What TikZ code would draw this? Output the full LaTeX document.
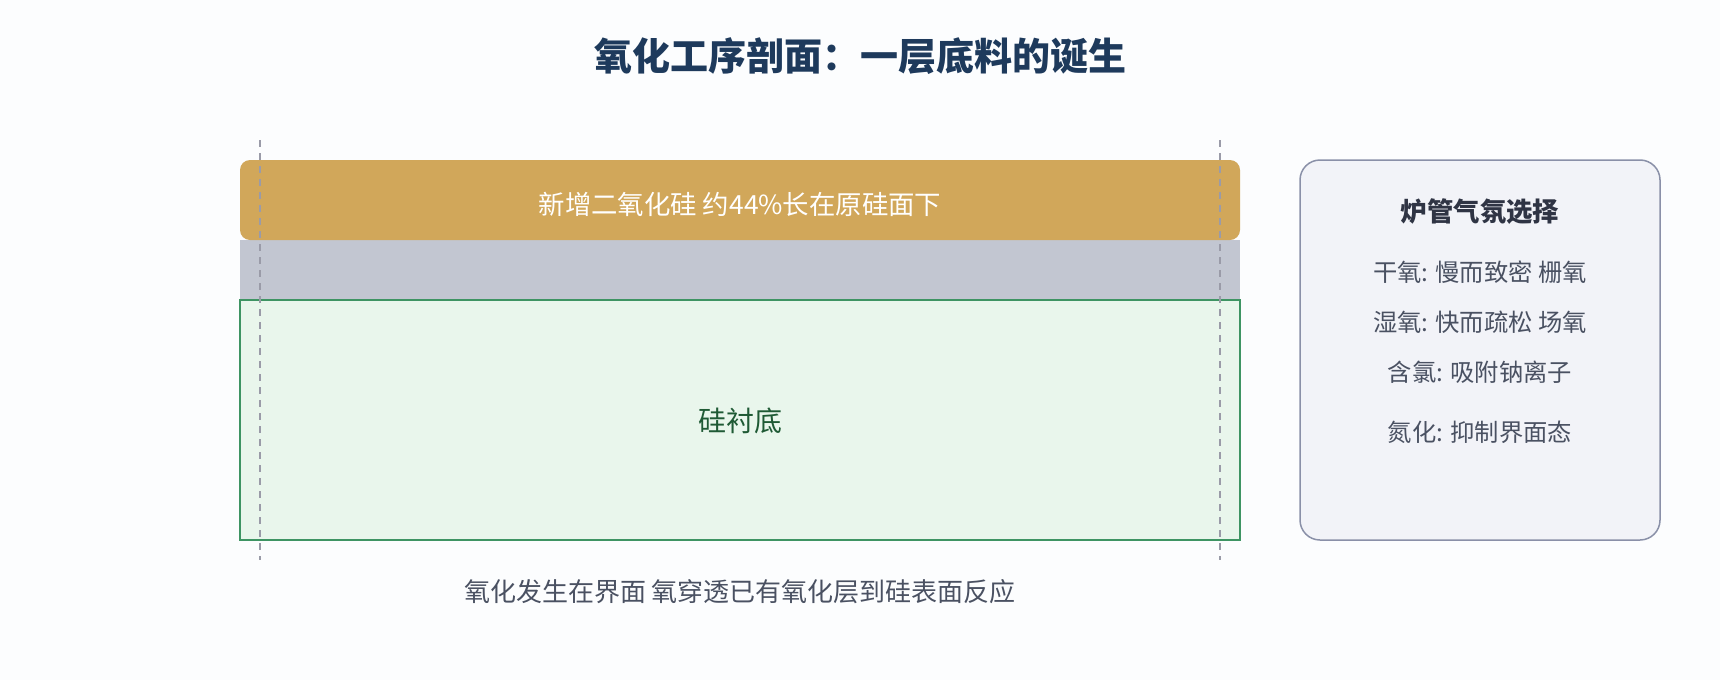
\documentclass[tikz,border=0pt]{standalone}
\usepackage{fontspec}
\setmainfont{Noto Sans CJK SC}
\definecolor{bgc}{HTML}{FCFDFE}
\definecolor{goldc}{HTML}{D1A75A}
\definecolor{grayc}{HTML}{C2C6D1}
\definecolor{greenfill}{HTML}{E9F6EC}
\definecolor{greenline}{HTML}{3E9463}
\definecolor{greentext}{HTML}{1F5A35}
\definecolor{titlec}{HTML}{1E3A5C}
\definecolor{textc}{HTML}{4A5162}
\definecolor{ptitlec}{HTML}{2F3444}
\definecolor{panelfill}{HTML}{F2F3F8}
\definecolor{panelline}{HTML}{8A90A8}
\definecolor{dashc}{HTML}{9A9BA8}
\tikzset{
  x=1pt,y=-1pt,
  lbl/.style={inner sep=0pt,anchor=center},
  guide/.style={draw=dashc,line width=1.3pt,dash pattern=on 7pt off 6pt},
  ptext/.style={lbl,text=textc,font=\fontsize{24.3}{28}\selectfont},
}
\begin{document}
\begin{tikzpicture}
\fill[bgc] (0,0) rectangle (1720,680);
\useasboundingbox (0,0) rectangle (1720,680);
% layers
\fill[grayc] (240,240) rectangle (1240,300);
\filldraw[fill=greenfill,draw=greenline,line width=1.5pt] (240,300) rectangle (1240,540);
\fill[goldc,rounded corners=10pt] (240,160) rectangle (1240,240);
% guides
\coordinate (g1a) at (260,140); \coordinate (g1b) at (260,560);
\coordinate (g2a) at (1220,140); \coordinate (g2b) at (1220,560);
\draw[guide] (g1a) -- (g1b);
\draw[guide] (g2a) -- (g2b);
% panel
\filldraw[fill=panelfill,draw=panelline,line width=1.5pt,rounded corners=20pt] (1300,160) rectangle (1660,540);
% texts
\node[lbl,text=titlec,font=\fontsize{38}{42}\selectfont\bfseries] (title) at (860,56) {氧化工序剖面：一层底料的诞生};
\node[lbl,text=white,font=\fontsize{26.4}{30}\selectfont] (goldt) at (740,204) {新增二氧化硅 约44\%长在原硅面下};
\node[lbl,text=greentext,font=\fontsize{28}{32}\selectfont] (sit) at (740,421) {硅衬底};
\node[lbl,text=textc,font=\fontsize{26}{30}\selectfont] (bott) at (740,592) {氧化发生在界面 氧穿透已有氧化层到硅表面反应};
\node[lbl,text=ptitlec,font=\fontsize{26.4}{30}\selectfont\bfseries] (pt) at (1480,212) {炉管气氛选择};
\node[ptext] (p1) at (1480,272) {干氧: 慢而致密 栅氧};
\node[ptext] (p2) at (1480,322) {湿氧: 快而疏松 场氧};
\node[ptext] (p3) at (1480,372) {含氯: 吸附钠离子};
\node[ptext] (p4) at (1480,432) {氮化: 抑制界面态};
\end{tikzpicture}
\end{document}
